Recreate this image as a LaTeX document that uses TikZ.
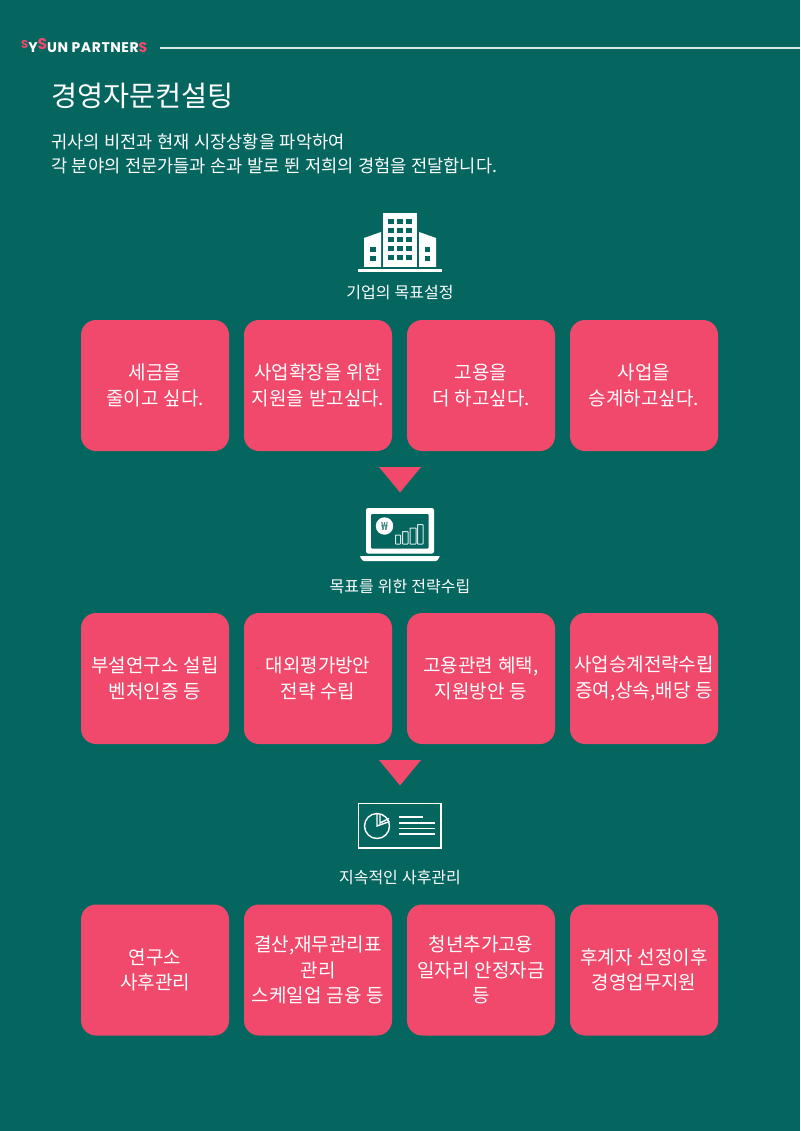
\documentclass[tikz,border=0pt]{standalone}
\usepackage{fontspec}
\setmainfont{Noto Sans CJK KR}[WordSpace=1.15]
\newfontfamily\logofont{Poppins}[LetterSpace=4]
\definecolor{bgc}{HTML}{05665F}
\definecolor{pinkc}{HTML}{F0496B}
\definecolor{inkc}{HTML}{FFFFFF}
\tikzset{
 card/.style={fill=pinkc,draw=none,rounded corners=15pt,minimum width=148pt,minimum height=131pt,inner sep=0pt,text=inkc,align=center,font=\fontsize{19}{25.5}\selectfont},
 steplabel/.style={text=inkc,font=\fontsize{16}{20}\selectfont,inner sep=0pt},
 tri/.style={fill=pinkc,draw=none},
 solidw/.style={fill=inkc,draw=none},
 holew/.style={fill=bgc,draw=none},
 thinw/.style={draw=inkc,line width=1.4pt,fill=none},
}
\begin{document}
\begin{tikzpicture}[x=1pt,y=-1pt]
\useasboundingbox (0,0) rectangle (800,1131);
\fill[bgc] (0,0) rectangle (800,1131);
% header
\node[anchor=base west,inner sep=0pt,text=inkc] (logo) at (21,53) {\logofont\bfseries\fontsize{14}{16}\selectfont
 \raisebox{4pt}{\textcolor{pinkc}{\fontsize{11.5}{12}\selectfont S}}Y\raisebox{3pt}{\textcolor{pinkc}{\fontsize{15.5}{16}\selectfont S}}UN PARTNER\textcolor{pinkc}{S}};
\coordinate (lineend) at (800,48);
\draw[draw=inkc!85!bgc,line width=1.1pt] (160,48) -- (lineend);
\node[anchor=west,inner sep=0pt,text=inkc,font=\fontsize{28.3}{32}\selectfont] (title) at (51,96) {경영자문컨설팅};
\node[anchor=north west,inner sep=0pt,text=inkc,align=left,font=\fontsize{17.6}{24}\selectfont] (intro) at (51,134) {귀사의 비전과 현재 시장상황을 파악하여\\각 분야의 전문가들과 손과 발로 뛴 저희의 경험을 전달합니다.};
% building icon
\fill[solidw] (358,269) rectangle (442,272);
\fill[solidw] (383,213) rectangle (417,267);
\fill[solidw] (364,238) -- (381,232) -- (381,267) -- (364,267) -- cycle;
\fill[solidw] (419,232) -- (436,238) -- (436,267) -- (419,267) -- cycle;
\foreach \yy in {219,228,237,246,255}{\foreach \xx in {388,397,406}{\fill[holew] (\xx,\yy) rectangle ++(5.5,5.5);}}
\foreach \yy in {247,256}{\fill[holew] (370,\yy) rectangle ++(5.5,5.5);\fill[holew] (424.5,\yy) rectangle ++(5.5,5.5);}
\node[steplabel] (l1) at (400,292.5) {기업의 목표설정};
% row 1
\node[card] (a1) at (155,385.5) {세금을\\줄이고 싶다.};
\node[card] (a2) at (318,385.5) {사업확장을 위한\\지원을 받고싶다.};
\node[card] (a3) at (481,385.5) {고용을\\더 하고싶다.};
\node[card] (a4) at (644,385.5) {사업을\\승계하고싶다.};
\fill[tri] (379,467) -- (421,467) -- (400,492.5) -- cycle;
% laptop icon
\fill[solidw,rounded corners=2pt] (366,508) rectangle (434,553.5);
\fill[holew,rounded corners=1pt] (371,514) rectangle (428.5,548.5);
\fill[solidw,rounded corners=1pt] (360,556) -- (439.5,556) -- (439.5,557) -- (437,561) -- (363,561) -- (360,557) -- cycle;
\fill[solidw] (384.5,526) circle (8.7pt);
\node[inner sep=0pt,text=bgc,font=\fontsize{11.5}{12}\selectfont] (won) at (384.5,526) {₩};
\draw[draw=inkc!85!bgc,line width=1pt,rounded corners=0.5pt]
 (395.5,535) rectangle (400.5,544)
 (402.5,531.5) rectangle (408,544)
 (410,528) rectangle (416,544)
 (417.5,524.5) rectangle (423,544);
\node[steplabel] (l2) at (400,586.5) {목표를 위한 전략수립};
% row 2
\node[card] (b1) at (155,678.5) {부설연구소 설립\\벤처인증 등};
\node[card] (b2) at (318,678.5) {대외평가방안\\전략 수립};
\node[card] (b3) at (481,678.5) {고용관련 혜택,\\지원방안 등};
\node[card] (b4) at (644,678.5) {사업승계전략수립\\증여,상속,배당 등};
\fill[tri] (379,760) -- (421,760) -- (400,785.5) -- cycle;
% board icon
\draw[thinw] (358.5,803.5) rectangle (441,848);
\draw[thinw] (377,826) circle (12.5pt);
\draw[thinw] (377,813.5) -- (377,826) -- (389.5,821.5);
\draw[thinw] (380,814) -- (380,823) -- (389,818.5);
\draw[thinw] (399,817) -- (423,817);
\draw[thinw] (399,823) -- (435,823);
\draw[thinw] (399,828.5) -- (435,828.5);
\draw[thinw] (399,834) -- (435,834);
\node[steplabel] (l3) at (400,877) {지속적인 사후관리};
% row 3
\node[card] (c1) at (155,970) {연구소\\사후관리};
\node[card] (c2) at (318,970) {결산,재무관리표\\관리\\스케일업 금융 등};
\node[card] (c3) at (481,970) {청년추가고용\\일자리 안정자금\\등};
\node[card] (c4) at (644,970) {후계자 선정이후\\경영업무지원};
\end{tikzpicture}
\end{document}
